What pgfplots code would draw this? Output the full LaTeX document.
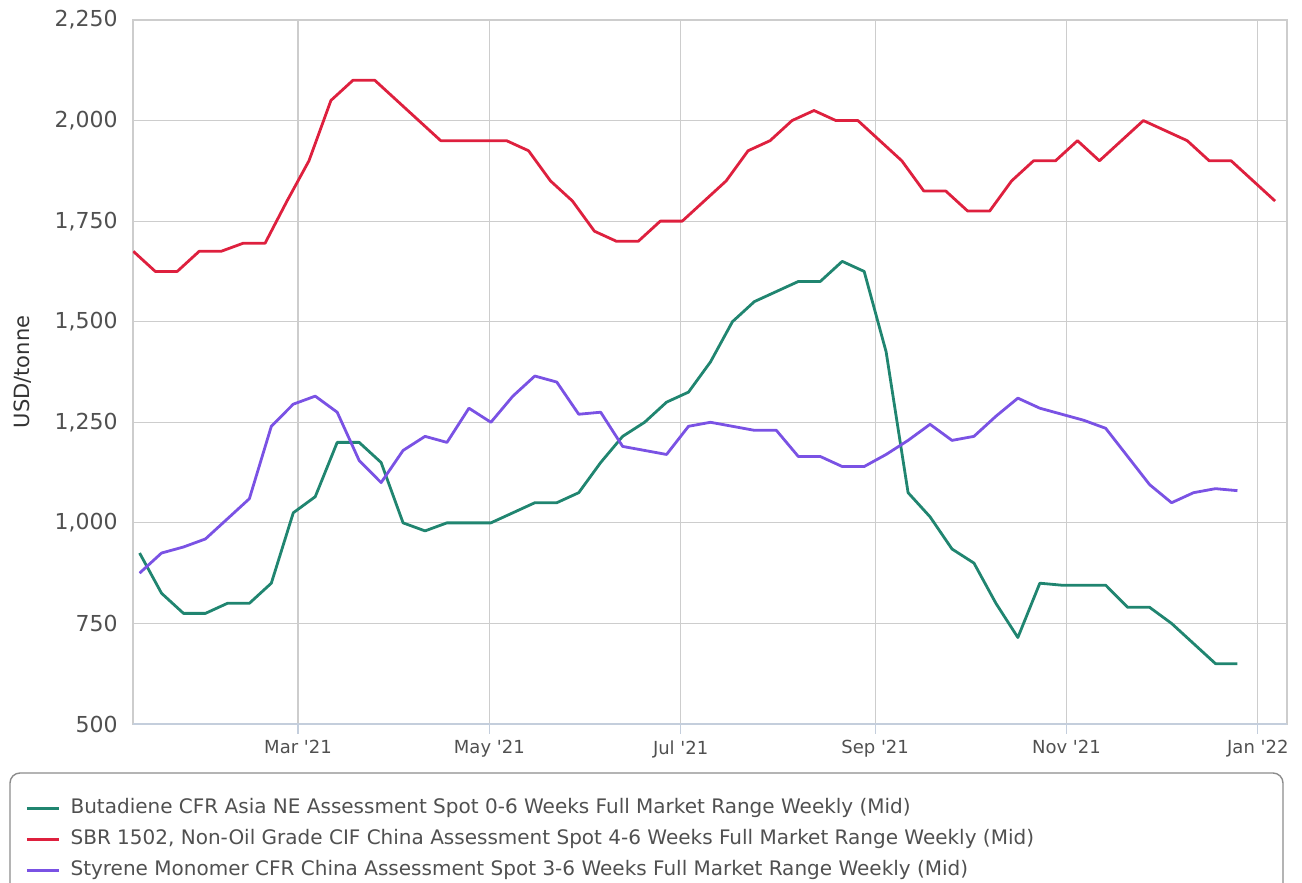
\documentclass[border=0pt]{standalone}
\usepackage{pgfplots}
\pgfplotsset{compat=1.18}
\usepackage{fontspec}
\setmainfont{DejaVu Sans}
\definecolor{cgreen}{RGB}{32,133,112}
\definecolor{cred}{RGB}{222,32,62}
\definecolor{cpurple}{RGB}{122,82,228}
\definecolor{cgrid}{RGB}{205,205,205}
\definecolor{caxis}{RGB}{196,206,220}
\definecolor{ctext}{RGB}{80,80,80}
\begin{document}
\begin{tikzpicture}
\begin{axis}[
  at={(0pt,0pt)}, anchor=south west,
  scale only axis, width=577pt, height=352pt,
  xmin=6.4, xmax=374.3, ymin=500, ymax=2250,
  clip mode=individual,
  xtick={59,120,181,243,304,365},
  xticklabels={Mar \textquotesingle21,May \textquotesingle21,Jul \textquotesingle21,Sep \textquotesingle21,Nov \textquotesingle21,Jan \textquotesingle22},
  ytick={500,750,1000,1250,1500,1750,2000,2250},
  grid=major,
  grid style={cgrid, line width=0.6pt},
  axis line style={cgrid, line width=0.6pt},
  tick align=outside,
  xtick pos=bottom, ytick pos=left,
  major tick length=5pt,
  xtick style={caxis, line width=0.6pt},
  ytick style={draw=none},
  /pgf/number format/assume math mode=true,
  yticklabel style={/pgf/number format/.cd, 1000 sep={,}, /tikz/.cd, font=\fontsize{11}{13}\selectfont, text=ctext, inner sep=0pt, xshift=-2.5pt},
  xticklabel style={font=\fontsize{9}{11}\selectfont, text=ctext, inner sep=0pt, yshift=-3pt},
  ylabel={USD/tonne},
  ylabel style={at={(axis description cs:-0.096,0.5)}, anchor=center, font=\fontsize{10.5}{12}\selectfont, text=black!80},
  legend style={at={(axis description cs:-0.0936,-0.105)}, anchor=north west, draw=none, fill=none,
    inner sep=0pt, row sep=5.5pt, column sep=5pt,
    nodes={inner sep=0pt, text height=0.75em, text depth=0.25em, font=\fontsize{10}{12}\selectfont, text=ctext}},
  legend cell align=left,
  legend image code/.code={\draw[#1, line width=1.6pt] (0pt,0pt) -- (16pt,0pt);},
  every axis plot/.append style={line width=1.4pt, line join=round, mark=none},
]
\addplot[cgreen] coordinates {(8.5,925)(15.5,825)(22.5,775)(29.5,775)(36.5,800)(43.5,800)(50.5,850)(57.5,1025)(64.5,1065)(71.5,1200)(78.5,1200)(85.5,1150)(92.5,1000)(99.5,980)(106.5,1000)(113.5,1000)(120.5,1000)(127.5,1025)(134.5,1050)(141.5,1050)(148.5,1075)(155.5,1150)(162.5,1215)(169.5,1250)(176.5,1300)(183.5,1325)(190.5,1400)(197.5,1500)(204.5,1550)(211.5,1575)(218.5,1600)(225.5,1600)(232.5,1650)(239.5,1625)(246.5,1425)(253.5,1075)(260.5,1015)(267.5,935)(274.5,900)(281.5,800)(288.5,715)(295.5,850)(302.5,845)(309.5,845)(316.5,845)(323.5,790)(330.5,790)(337.5,750)(344.5,700)(351.5,650)(358.5,650)};
\addlegendentry{Butadiene CFR Asia NE Assessment Spot 0-6 Weeks Full Market Range Weekly (Mid)}
\addplot[cred] coordinates {(6.5,1675)(13.5,1625)(20.5,1625)(27.5,1675)(34.5,1675)(41.5,1695)(48.5,1695)(55.5,1800)(62.5,1900)(69.5,2050)(76.5,2100)(83.5,2100)(90.5,2050)(97.5,2000)(104.5,1950)(111.5,1950)(118.5,1950)(125.5,1950)(132.5,1925)(139.5,1850)(146.5,1800)(153.5,1725)(160.5,1700)(167.5,1700)(174.5,1750)(181.5,1750)(188.5,1800)(195.5,1850)(202.5,1925)(209.5,1950)(216.5,2000)(223.5,2025)(230.5,2000)(237.5,2000)(244.5,1950)(251.5,1900)(258.5,1825)(265.5,1825)(272.5,1775)(279.5,1775)(286.5,1850)(293.5,1900)(300.5,1900)(307.5,1950)(314.5,1900)(321.5,1950)(328.5,2000)(335.5,1975)(342.5,1950)(349.5,1900)(356.5,1900)(363.5,1850)(370.5,1800)};
\addlegendentry{SBR 1502, Non-Oil Grade CIF China Assessment Spot 4-6 Weeks Full Market Range Weekly (Mid)}
\addplot[cpurple] coordinates {(8.5,875)(15.5,925)(22.5,940)(29.5,960)(36.5,1010)(43.5,1060)(50.5,1240)(57.5,1295)(64.5,1315)(71.5,1275)(78.5,1155)(85.5,1100)(92.5,1180)(99.5,1215)(106.5,1200)(113.5,1285)(120.5,1250)(127.5,1315)(134.5,1365)(141.5,1350)(148.5,1270)(155.5,1275)(162.5,1190)(169.5,1180)(176.5,1170)(183.5,1240)(190.5,1250)(197.5,1240)(204.5,1230)(211.5,1230)(218.5,1165)(225.5,1165)(232.5,1140)(239.5,1140)(246.5,1170)(253.5,1205)(260.5,1245)(267.5,1205)(274.5,1215)(281.5,1265)(288.5,1310)(295.5,1285)(302.5,1270)(309.5,1255)(316.5,1235)(323.5,1165)(330.5,1095)(337.5,1050)(344.5,1075)(351.5,1085)(358.5,1080)};
\addlegendentry{Styrene Monomer CFR China Assessment Spot 3-6 Weeks Full Market Range Weekly (Mid)}
\draw[caxis, line width=1.2pt] (rel axis cs:0,0) -- (rel axis cs:1,0);
\end{axis}
\draw[black!45, line width=0.7pt, rounded corners=5pt] (-61.5pt,-24.5pt) rectangle (575pt,-95pt);
\pgfresetboundingbox
\path[use as bounding box] (-66.5pt,-79.5pt) rectangle (584.5pt,362pt);
\end{tikzpicture}
\end{document}
